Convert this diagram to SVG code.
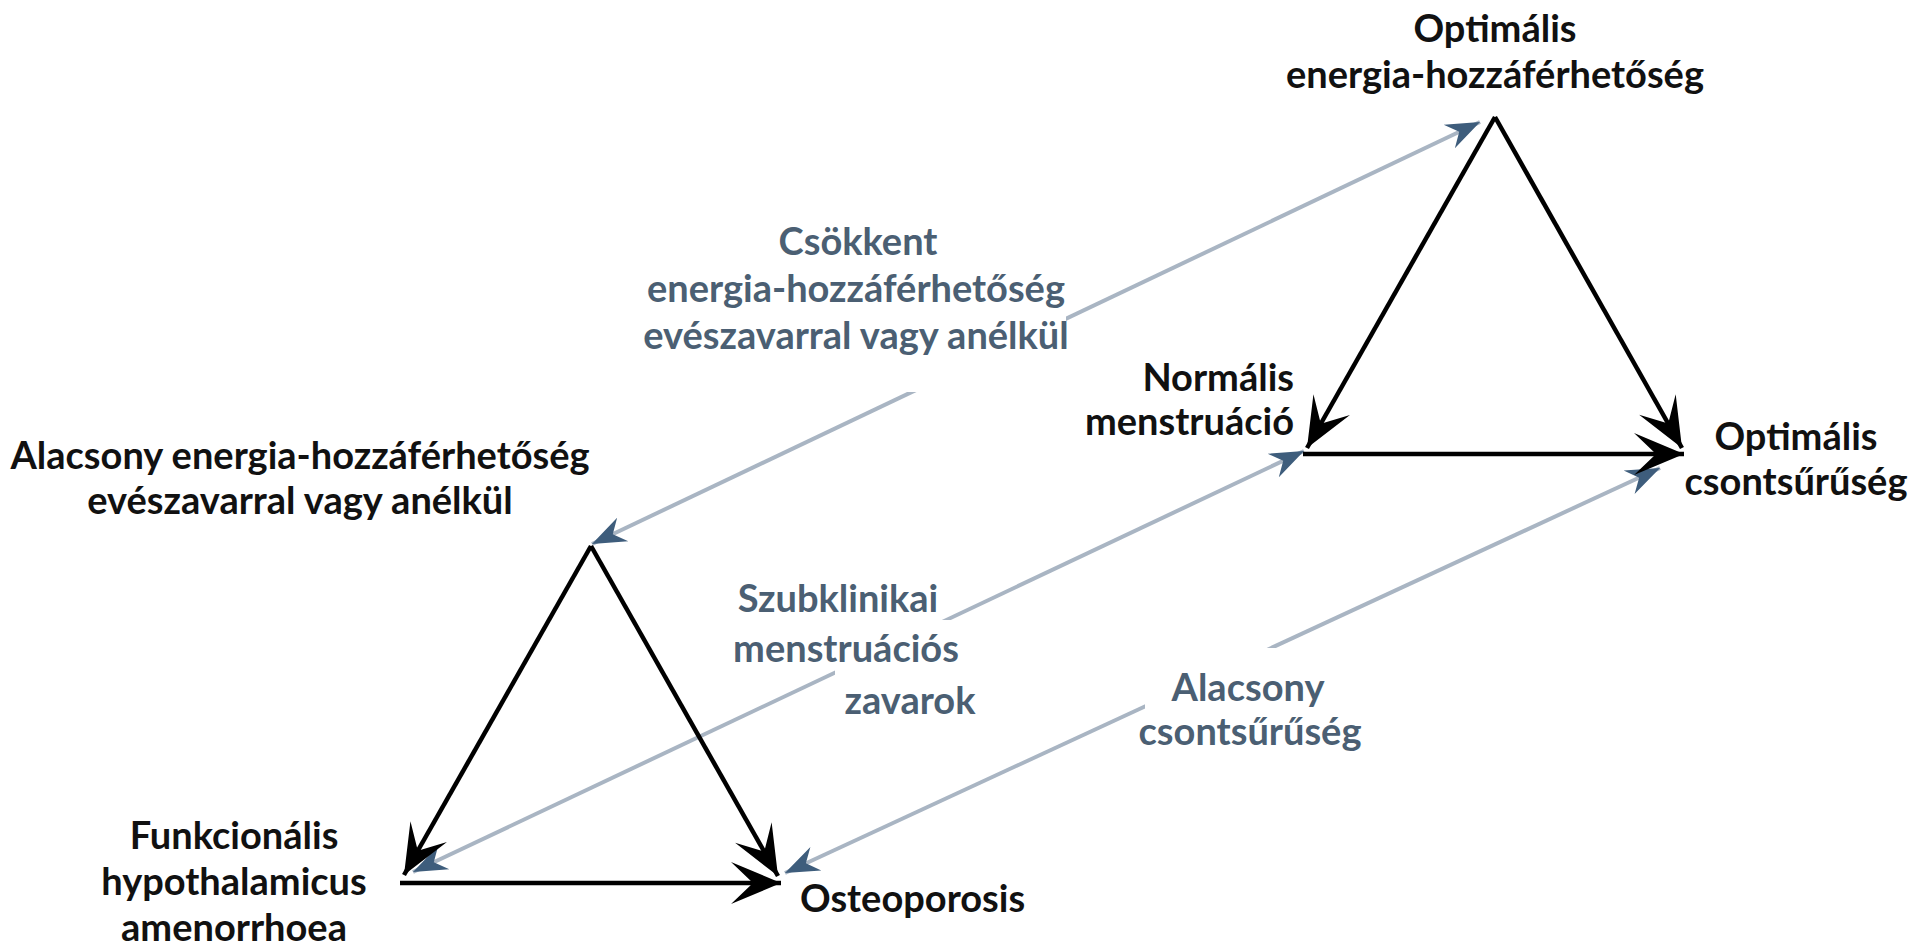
<svg xmlns="http://www.w3.org/2000/svg" width="1915" height="952" viewBox="0 0 1915 952">
<style>
.blk{font-family:Lato,"Liberation Sans",sans-serif;font-weight:bold;font-size:38px;fill:#111}
.blu{font-family:Lato,"Liberation Sans",sans-serif;font-weight:bold;font-size:38px;fill:#4b5f73}
.bl{stroke:#000;stroke-width:4.5;fill:none}
.gl{stroke:#a9b5c3;stroke-width:4;fill:none}
.mask{fill:#fff}
</style>
<defs>
<marker id="ab" viewBox="-52 -24 54 48" refX="0" refY="0" markerWidth="54" markerHeight="48" markerUnits="userSpaceOnUse" orient="auto">
<path d="M0,0 L-50,-21 L-28,0 L-50,21 Z" fill="#000"/>
</marker>
<marker id="au" viewBox="-36 -16 38 32" refX="0" refY="0" markerWidth="38" markerHeight="32" markerUnits="userSpaceOnUse" orient="auto-start-reverse">
<path d="M0,0 L-34,-13 L-23,0 L-34,13 Z" fill="#3e5d7c"/>
</marker>
</defs>
<rect width="1915" height="952" fill="#fff"/>
<g id="connectors">
<line class="gl" x1="592" y1="544" x2="1480" y2="122" marker-start="url(#au)" marker-end="url(#au)"/>
<line class="gl" x1="413" y1="872" x2="1304" y2="451" marker-start="url(#au)" marker-end="url(#au)"/>
<line class="gl" x1="785" y1="873" x2="1660" y2="468" marker-start="url(#au)" marker-end="url(#au)"/>
<line class="bl" x1="591" y1="546" x2="404" y2="875" marker-end="url(#ab)"/>
<line class="bl" x1="591" y1="546" x2="778" y2="876" marker-end="url(#ab)"/>
<line class="bl" x1="400" y1="883" x2="781" y2="883" marker-end="url(#ab)"/>
<line class="bl" x1="1495" y1="117" x2="1307" y2="448" marker-end="url(#ab)"/>
<line class="bl" x1="1495" y1="117" x2="1682" y2="448" marker-end="url(#ab)"/>
<line class="bl" x1="1303" y1="454" x2="1684" y2="454" marker-end="url(#ab)"/>
</g>
<g id="node-optimal-energy">
<text class="blk" text-anchor="middle" x="1495" y="42">Optimális</text>
<text class="blk" text-anchor="middle" x="1495" y="88">energia-hozzáférhetőség</text>
</g>
<g id="node-normal-menstruation">
<text class="blk" text-anchor="end" x="1294" y="391">Normális</text>
<text class="blk" text-anchor="end" x="1294" y="435">menstruáció</text>
</g>
<g id="node-optimal-bone">
<text class="blk" text-anchor="middle" x="1796" y="450">Optimális</text>
<text class="blk" text-anchor="middle" x="1796" y="495">csontsűrűség</text>
</g>
<g id="node-low-energy">
<text class="blk" text-anchor="middle" x="300" y="469">Alacsony energia-hozzáférhetőség</text>
<text class="blk" text-anchor="middle" x="300" y="514">evészavarral vagy anélkül</text>
</g>
<g id="node-fha">
<text class="blk" text-anchor="middle" x="234" y="849">Funkcionális</text>
<text class="blk" text-anchor="middle" x="234" y="895">hypothalamicus</text>
<text class="blk" text-anchor="middle" x="234" y="941">amenorrhoea</text>
</g>
<g id="node-osteoporosis">
<text class="blk" x="800" y="912">Osteoporosis</text>
</g>
<g id="label-energy">
<rect class="mask" x="630" y="215" width="436" height="177"/>
<text class="blu" text-anchor="middle" x="858" y="255">Csökkent</text>
<text class="blu" text-anchor="middle" x="856" y="302">energia-hozzáférhetőség</text>
<text class="blu" text-anchor="middle" x="856" y="349">evészavarral vagy anélkül</text>
</g>
<g id="label-menstrual">
<rect class="mask" x="835" y="620" width="150" height="110"/>
<text class="blu" text-anchor="middle" x="838" y="612">Szubklinikai</text>
<text class="blu" text-anchor="middle" x="846" y="662">menstruációs</text>
<text class="blu" text-anchor="middle" x="910" y="714">zavarok</text>
</g>
<g id="label-bone">
<rect class="mask" x="1145" y="648" width="215" height="105"/>
<text class="blu" text-anchor="middle" x="1248" y="701">Alacsony</text>
<text class="blu" text-anchor="middle" x="1250" y="745">csontsűrűség</text>
</g>
</svg>
